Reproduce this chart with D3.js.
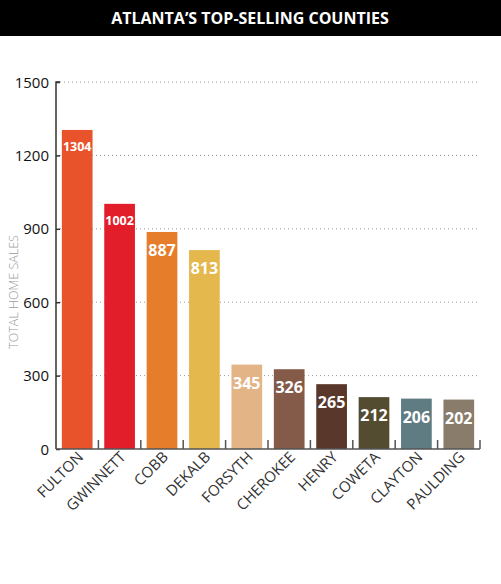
<!DOCTYPE html>
<html><head><meta charset="utf-8">
<script src="https://cdn.jsdelivr.net/npm/d3@7"></script>
<style>
html,body{margin:0;padding:0;background:#fff;}
svg{display:block;}
</style></head>
<body>
<svg id="chart" width="501" height="584"></svg>
<script>
const counties = ["FULTON","GWINNETT","COBB","DEKALB","FORSYTH","CHEROKEE","HENRY","COWETA","CLAYTON","PAULDING"];
const sales = [1304,1002,887,813,345,326,265,212,206,202];
const barColors = ["#E8532B","#E31E2B","#E67D2A","#E5B84E","#E3B486","#845A48","#5A372B","#544C30","#607C83","#8A7C6B"];
const yTicks = [0,300,600,900,1200,1500];
const title = "ATLANTA’S TOP-SELLING COUNTIES";
const yTitle = "TOTAL HOME SALES";

const svg = d3.select("#chart");
const font = "'Open Sans', sans-serif";

// title bar
svg.append("rect").attr("x",0).attr("y",0).attr("width",501).attr("height",36).attr("fill","#000");
svg.append("text").attr("x",250).attr("y",24).attr("text-anchor","middle")
  .attr("fill","#fff").attr("font-family",font).attr("font-weight",700)
  .attr("font-size",16).text(title);

const x0 = 56, x1 = 480, yTop = 82, yBot = 449;
const x = d3.scaleBand().domain(counties).range([x0,x1]).paddingInner(0.276).paddingOuter(0.138);
const y = d3.scaleLinear().domain([0,1500]).range([yBot,yTop]);

// gridlines
svg.append("g").selectAll("line").data(yTicks.filter(d=>d>0)).join("line")
  .attr("x1",x0+4).attr("x2",477).attr("y1",d=>y(d)).attr("y2",d=>y(d))
  .attr("stroke","#9a9a9a").attr("stroke-width",1).attr("stroke-dasharray","1,3");

// bars
svg.append("g").selectAll("rect").data(counties).join("rect")
  .attr("x",d=>x(d)).attr("width",x.bandwidth())
  .attr("y",(d,i)=>y(sales[i])).attr("height",(d,i)=>yBot-y(sales[i]))
  .attr("fill",(d,i)=>barColors[i]);

// value labels
svg.append("g").selectAll("text").data(counties).join("text")
  .attr("x",d=>x(d)+x.bandwidth()/2)
  .attr("y",(d,i)=>y(sales[i]) + (sales[i]>=1000 ? 21.5 : 24))
  .attr("text-anchor","middle").attr("fill","#fff")
  .attr("font-family",font).attr("font-weight",700)
  .attr("font-size",(d,i)=>sales[i]>=1000?12.5:16)
  .text((d,i)=>sales[i]);

// y axis
const yAxis = d3.axisRight(y).tickValues(yTicks).tickSize(4).tickFormat("");
const gy = svg.append("g").attr("transform",`translate(${x0},0)`).call(yAxis);
gy.select(".domain").attr("stroke","#333").attr("stroke-width",1.5).attr("d",`M4,${yTop}H0V${yBot}`);
gy.selectAll(".tick line").attr("stroke","#333").attr("stroke-width",1.5);
svg.append("g").selectAll("text").data(yTicks).join("text")
  .attr("x",49).attr("y",d=>y(d)+5.5).attr("text-anchor","end")
  .attr("font-family",font).attr("font-size",15).attr("fill","#111").text(d=>d);

// x axis with upward ticks at band boundaries
const bounds = [x0].concat(counties.map(d=>x(d)+x.bandwidth()+x.step()*x.paddingInner()/2));
svg.append("line").attr("x1",x0).attr("x2",x1).attr("y1",yBot).attr("y2",yBot)
  .attr("stroke","#555").attr("stroke-width",1.5);
svg.append("g").selectAll("line").data(bounds.slice(1)).join("line")
  .attr("x1",d=>d).attr("x2",d=>d).attr("y1",yBot).attr("y2",yBot-9)
  .attr("stroke","#555").attr("stroke-width",1.5);

// x labels
svg.append("g").selectAll("text").data(counties).join("text")
  .attr("transform",d=>`translate(${x(d)+x.bandwidth()/2+7},${yBot+9}) rotate(-45)`)
  .attr("text-anchor","end").attr("font-family",font).attr("font-size",15)
  .attr("fill","#333").text(d=>d);

// y title
svg.append("text").attr("transform",`translate(18,292) rotate(-90)`)
  .attr("text-anchor","middle").attr("font-family",font).attr("font-size",12.5)
  .attr("font-weight",300).attr("fill","#9a9a9a").text(yTitle);
</script>
</body></html>
